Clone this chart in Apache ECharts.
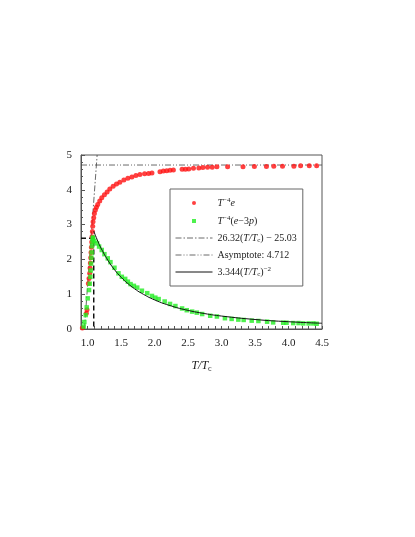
<!DOCTYPE html>
<html>
<head>
<meta charset="utf-8">
<script src="https://cdn.jsdelivr.net/npm/echarts@6/dist/echarts.min.js"></script>
<style>
  html, body { margin: 0; padding: 0; background: #fff; }
  #chart { width: 415px; height: 537px; }
</style>
</head>
<body>
<div id="chart"></div>
<script>
// energy density T^-4 e (red dots)
const eT = [0.92, 0.98, 0.99, 1.01, 1.02, 1.03, 1.035, 1.04, 1.045, 1.05, 1.055, 1.06, 1.065, 1.07, 1.075, 1.08, 1.09, 1.10, 1.115, 1.13, 1.15, 1.18, 1.21, 1.25, 1.29, 1.33, 1.38, 1.43, 1.48, 1.54, 1.60, 1.66, 1.72, 1.78, 1.85, 1.91, 1.96, 2.08, 2.13, 2.18, 2.23, 2.28, 2.41, 2.46, 2.51, 2.58, 2.66, 2.72, 2.79, 2.86, 2.93, 3.09, 3.32, 3.49, 3.67, 3.78, 3.91, 4.08, 4.18, 4.31, 4.42]
const eVal = [0.03, 0.45, 0.55, 1.31, 1.45, 1.60, 1.75, 1.90, 2.05, 2.20, 2.35, 2.50, 2.65, 2.80, 2.95, 3.08, 3.20, 3.32, 3.42, 3.50, 3.58, 3.68, 3.77, 3.86, 3.94, 4.02, 4.10, 4.17, 4.22, 4.28, 4.33, 4.37, 4.41, 4.44, 4.46, 4.47, 4.48, 4.52, 4.54, 4.55, 4.56, 4.57, 4.59, 4.59, 4.60, 4.62, 4.63, 4.64, 4.65, 4.65, 4.66, 4.66, 4.66, 4.67, 4.67, 4.68, 4.68, 4.68, 4.69, 4.69, 4.69]

// trace anomaly T^-4 (e-3p) (green squares)
const dT = [0.94, 0.95, 0.97, 0.985, 1.0, 1.02, 1.03, 1.04, 1.045, 1.05, 1.055, 1.06, 1.065, 1.07, 1.075, 1.08, 1.10, 1.14, 1.17, 1.21, 1.25, 1.30, 1.34, 1.40, 1.46, 1.51, 1.56, 1.60, 1.64, 1.69, 1.74, 1.81, 1.89, 1.96, 2.01, 2.06, 2.15, 2.23, 2.31, 2.41, 2.48, 2.56, 2.63, 2.71, 2.83, 2.93, 3.05, 3.15, 3.25, 3.33, 3.45, 3.55, 3.68, 3.77, 3.92, 3.97, 4.07, 4.15, 4.22, 4.30, 4.37, 4.42]
const dVal = [0.07, 0.20, 0.40, 0.62, 0.88, 1.12, 1.30, 1.50, 1.68, 1.88, 2.05, 2.20, 2.38, 2.50, 2.60, 2.63, 2.53, 2.46, 2.37, 2.27, 2.15, 2.03, 1.92, 1.76, 1.60, 1.50, 1.44, 1.36, 1.29, 1.24, 1.19, 1.10, 1.03, 0.95, 0.90, 0.86, 0.79, 0.72, 0.66, 0.59, 0.54, 0.50, 0.47, 0.43, 0.38, 0.36, 0.31, 0.29, 0.27, 0.26, 0.24, 0.23, 0.21, 0.19, 0.18, 0.18, 0.17, 0.17, 0.16, 0.16, 0.16, 0.15]

// fit lines
const linT = [0.951, 1.141]
const linVal = [0, 5]
const asymT = [0.9, 4.5]
const asymVal = [4.712, 4.712]
const powT = [1.09, 1.15, 1.2, 1.3, 1.4, 1.5, 1.6, 1.7, 1.8, 2.0, 2.25, 2.5, 2.75, 3.0, 3.5, 4.0, 4.5]
const powVal = [2.815, 2.529, 2.322, 1.979, 1.706, 1.486, 1.306, 1.157, 1.032, 0.836, 0.661, 0.535, 0.442, 0.372, 0.273, 0.209, 0.165]
// Tc marker (dashed)
const tcT = [0.9, 1.09, 1.09]
const tcVal = [2.61, 2.61, 0]

const xLabels = [1.0, 1.5, 2.0, 2.5, 3.0, 3.5, 4.0, 4.5]
const xTicks = []
for (let i = 9; i <= 45; i++) xTicks.push(i / 10)

const pair = (xs, ys) => xs.map((x, i) => [x, ys[i]])
const serif = 'Liberation Serif'
const ink = '#222'
const dashDot = [6, 2, 1.5, 2]
const dashDotDot = [6, 2, 1, 2, 1, 2]

const legendText = {
  e: '{i|T}{sup|−4}{i|e}',
  d: '{i|T}{sup|−4}{r|(}{i|e}{r|−3}{i|p}{r|)}',
  lin: '{r|26.32(}{i|T/T}{sub|c}{r|) − 25.03}',
  asym: '{r|Asymptote: 4.712}',
  pow: '{r|3.344(}{i|T/T}{sub|c}{r|)}{sup|−2}'
}
const rich = {
  r: { fontFamily: serif, fontSize: 10, color: ink, lineHeight: 12 },
  i: { fontFamily: serif, fontSize: 10, fontStyle: 'italic', color: ink, lineHeight: 12 },
  sup: { fontFamily: serif, fontSize: 7, color: ink, verticalAlign: 'top', lineHeight: 12, padding: [0, 0, 5, 0] },
  sub: { fontFamily: serif, fontSize: 7, color: ink, verticalAlign: 'bottom', lineHeight: 12, padding: [4, 0, 0, 0] }
}

const myChart = echarts.init(document.getElementById('chart'))
const option = {
  animation: false,
  backgroundColor: '#fff',
  grid: {
    left: 81,
    right: 93,
    top: 155,
    bottom: 208,
    show: true,
    borderColor: '#555',
    borderWidth: 1
  },
  legend: {
    orient: 'vertical',
    left: 170,
    top: 189,
    padding: [8, 6, 8, 5],
    itemGap: 6,
    itemWidth: 37,
    itemHeight: 4,
    itemTextGap: 9,
    borderColor: '#666',
    borderWidth: 1,
    data: [
      { name: 'e', icon: 'circle' },
      { name: 'd', icon: 'path://M0,0h10v10h-10z' },
      { name: 'lin', itemStyle: { opacity: 0 }, lineStyle: { color: '#444', width: 0.8, type: dashDot } },
      { name: 'asym', itemStyle: { opacity: 0 }, lineStyle: { color: '#444', width: 0.8, type: dashDotDot } },
      { name: 'pow', itemStyle: { opacity: 0 }, lineStyle: { color: '#111', width: 1, type: 'solid' } }
    ],
    formatter: name => legendText[name],
    textStyle: { rich: rich }
  },
  xAxis: {
    type: 'value',
    min: 0.9,
    max: 4.5,
    name: '{i|T/T}{sub|c}',
    nameLocation: 'middle',
    nameGap: 30,
    nameTextStyle: {
      rich: {
        i: { fontFamily: serif, fontSize: 12, fontStyle: 'italic', color: ink, lineHeight: 14 },
        sub: { fontFamily: serif, fontSize: 8, color: ink, verticalAlign: 'bottom', lineHeight: 14, padding: [5, 0, 0, 0] }
      }
    },
    axisLine: { show: true, lineStyle: { color: '#555', width: 1 } },
    axisTick: { show: true, inside: true, length: 3, customValues: xTicks, lineStyle: { color: '#555' } },
    axisLabel: {
      customValues: xLabels,
      formatter: v => v.toFixed(1),
      margin: 9,
      fontFamily: serif,
      fontSize: 11,
      color: ink
    },
    splitLine: { show: false }
  },
  yAxis: {
    type: 'value',
    min: 0,
    max: 5,
    interval: 1,
    axisLine: { show: true, lineStyle: { color: '#555', width: 1 } },
    axisTick: { show: true, inside: true, length: 4, lineStyle: { color: '#555' } },
    minorTick: { show: true, splitNumber: 5, length: 2, lineStyle: { color: '#555' } },
    axisLabel: { margin: 9, fontFamily: serif, fontSize: 11, color: ink },
    splitLine: { show: false }
  },
  series: [
    {
      name: 'asym',
      type: 'line',
      data: pair(asymT, asymVal),
      symbol: 'none',
      color: '#444',
      lineStyle: { color: '#444', width: 0.8, type: dashDotDot },
      z: 2
    },
    {
      name: 'lin',
      type: 'line',
      data: pair(linT, linVal),
      symbol: 'none',
      color: '#444',
      lineStyle: { color: '#444', width: 0.8, type: dashDot },
      z: 2
    },
    {
      name: 'tc',
      type: 'line',
      data: pair(tcT, tcVal),
      symbol: 'none',
      lineStyle: { color: '#111', width: 1.5, type: [5, 3] },
      z: 3
    },
    {
      name: 'e',
      type: 'scatter',
      data: pair(eT, eVal),
      symbol: 'circle',
      symbolSize: 5,
      itemStyle: { color: '#ff1010' },
      z: 4
    },
    {
      name: 'd',
      type: 'scatter',
      data: pair(dT, dVal),
      symbol: 'rect',
      symbolSize: 4.5,
      itemStyle: { color: '#22ee22' },
      z: 4
    },
    {
      name: 'pow',
      type: 'line',
      data: pair(powT, powVal),
      symbol: 'none',
      smooth: true,
      color: '#111',
      lineStyle: { color: '#111', width: 1 },
      z: 5
    }
  ]
}
option && myChart.setOption(option)
</script>
</body>
</html>
